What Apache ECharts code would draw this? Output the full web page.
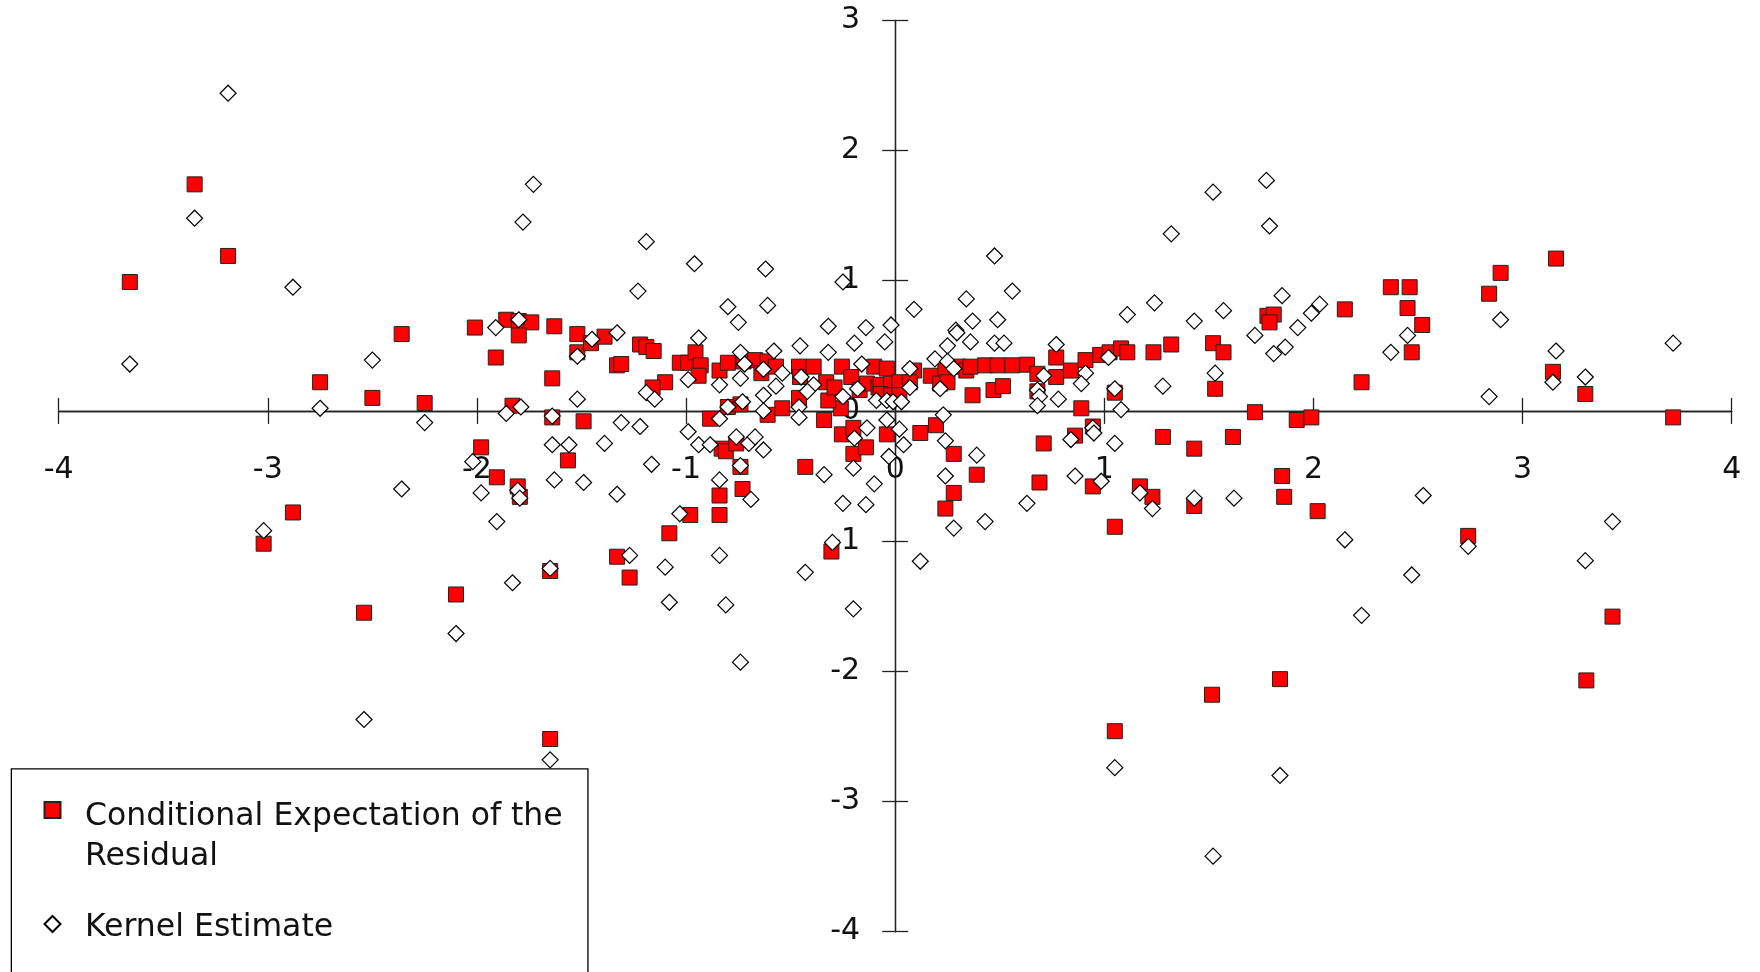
<!DOCTYPE html>
<html>
<head>
<meta charset="utf-8">
<script src="https://cdn.jsdelivr.net/npm/echarts@6/dist/echarts.min.js"></script>
<style>
  html, body { margin: 0; padding: 0; background: #fff; }
  #chart { width: 1760px; height: 972px; }
</style>
</head>
<body>
<div id="chart"></div>
<script>
// 两个系列的点 [x, y]
var condExpName = 'Conditional Expectation of the Residual';
var kernelName = 'Kernel Estimate';

var condExpPoints = [
  [-3.66,0.99],[-3.35,1.74],[-3.19,1.19],[-2.75,0.22],[-2.50,0.10],[-2.36,0.59],[-2.25,0.06],
  [-2.88,-0.78],[-3.02,-1.02],[-2.54,-1.55],[-2.10,-1.41],[-1.65,-2.52],
  [-2.01,0.64],[-1.86,0.70],[-1.80,0.69],[-1.74,0.68],[-1.80,0.58],[-1.63,0.65],[-1.91,0.41],
  [-1.52,0.59],[-1.52,0.45],[-1.455,0.52],[-1.39,0.57],[-1.22,0.51],[-1.19,0.49],[-1.155,0.46],
  [-1.33,0.35],[-1.31,0.36],[-1.64,0.25],[-1.10,0.22],[-1.16,0.18],[-1.83,0.04],[-1.64,-0.05],
  [-1.49,-0.08],[-1.98,-0.28],[-1.565,-0.38],[-1.905,-0.51],[-1.805,-0.58],[-1.795,-0.66],
  [-1.65,-1.23],[-1.33,-1.12],[-1.27,-1.28],[-1.08,-0.94],[-0.98,-0.80],[-0.84,-0.65],[-0.84,-0.80],
  [-0.73,-0.60],[-0.74,-0.43],[-0.83,-0.29],[-0.81,-0.31],[-0.76,-0.25],[-0.885,-0.06],[-0.80,0.03],
  [-0.74,0.05],[-0.61,-0.03],[-0.54,0.02],[-0.46,0.10],[-0.34,-0.07],[-0.43,-0.43],[-0.305,-1.08],
  [-0.255,-0.18],[-0.20,-0.33],[-0.14,-0.28],[-0.26,0.02],[-0.32,0.08],[-0.20,-0.13],
  [-1.03,0.37],[-0.99,0.37],[-0.955,0.45],[-0.93,0.35],[-0.94,0.27],[-0.84,0.31],[-0.80,0.37],
  [-0.725,0.38],[-0.67,0.39],[-0.64,0.29],[-0.61,0.38],[-0.57,0.34],[-0.46,0.34],[-0.455,0.26],
  [-0.39,0.34],[-0.33,0.22],[-0.29,0.18],[-0.255,0.34],[-0.21,0.26],[-0.17,0.16],[-0.135,0.21],
  [-0.10,0.34],[-0.08,0.18],
  [-0.04,0.325],[0.09,0.31],[0.17,0.27],[0.24,0.325],[0.30,0.34],[0.34,0.31],[0.36,0.34],[0.43,0.35],
  [0.49,0.35],[0.56,0.35],[0.63,0.355],[0.68,0.285],[0.77,0.41],[0.77,0.26],[0.84,0.31],[0.91,0.39],
  [0.98,0.43],[1.025,0.45],[1.08,0.48],[1.11,0.45],[1.235,0.45],[1.32,0.51],[1.52,0.52],[1.57,0.45],
  [1.78,0.73],[1.81,0.74],[1.79,0.68],
  [-0.07,0.20],[-0.02,0.21],[0.02,0.22],[0.07,0.22],[0.215,0.21],[0.25,0.22],[-0.07,0.13],[-0.02,0.12],
  [0.02,0.12],[0.37,0.12],[0.47,0.16],[0.515,0.19],[0.68,0.15],[1.05,0.14],[1.53,0.17],[0.89,0.02],
  [1.72,-0.01],[1.92,-0.07],[1.99,-0.05],
  [-0.04,-0.18],[0.12,-0.17],[0.195,-0.11],[0.28,-0.33],[0.39,-0.49],[0.28,-0.63],[0.24,-0.75],
  [0.71,-0.25],[0.86,-0.19],[0.945,-0.12],[0.69,-0.55],[0.945,-0.58],[1.05,-0.89],[1.17,-0.58],
  [1.23,-0.66],[1.28,-0.20],[1.43,-0.29],[1.43,-0.73],[1.615,-0.20],[1.85,-0.50],[1.86,-0.66],[2.02,-0.77],
  [1.05,-2.46],[1.515,-2.18],[1.84,-2.06],[3.305,-2.07],
  [3.16,1.17],[2.895,1.06],[2.84,0.90],[2.37,0.95],[2.46,0.95],[2.15,0.78],[2.45,0.79],[2.52,0.66],
  [2.47,0.45],[2.23,0.22],[3.145,0.30],[3.30,0.13],[3.72,-0.05],[2.74,-0.96],[3.43,-1.58]
];

var kernelPoints = [
  [-3.19,2.44],[-3.35,1.48],[-2.88,0.95],[-3.66,0.36],[-2.50,0.39],[-2.75,0.02],[-2.25,-0.09],
  [-2.36,-0.60],[-3.02,-0.92],[-2.54,-2.37],[-1.65,-2.68],[-0.74,-1.93],[1.05,-2.74],[1.52,-3.42],[1.84,-2.80],
  [3.72,0.52],[2.895,0.70],[2.45,0.58],[2.37,0.45],[3.16,0.46],[3.145,0.22],[3.30,0.26],[2.84,0.11],
  [2.525,-0.65],[2.15,-0.99],[2.74,-1.04],[3.43,-0.85],[3.30,-1.15],[2.47,-1.26],[2.23,-1.57],
  [0.475,1.19],[0.09,0.78],[0.34,0.86],[0.56,0.92],[0.37,0.69],[0.49,0.70],[-0.02,0.66],[0.29,0.62],
  [1.32,1.36],[1.52,1.68],[1.775,1.77],[1.79,1.42],[1.11,0.74],[1.24,0.83],[1.43,0.69],[1.57,0.77],
  [1.85,0.885],[1.925,0.64],[1.99,0.75],[2.03,0.82],
  [-1.73,1.74],[-1.78,1.45],[-1.19,1.30],[-0.96,1.13],[-0.62,1.09],[-0.25,0.99],[-1.23,0.92],
  [-0.80,0.80],[-0.61,0.81],[-0.75,0.68],[-0.32,0.65],[-0.14,0.64],
  [-1.91,0.64],[-1.80,0.70],[-1.45,0.55],[-1.52,0.42],[-1.33,0.60],[-0.94,0.56],[-0.195,0.52],
  [-0.32,0.45],[-0.455,0.50],[-0.58,0.46],[-0.74,0.45],[-0.72,0.36],[-0.63,0.32],[-0.54,0.29],
  [-0.74,0.25],[-0.84,0.20],[-0.99,0.24],[-0.57,0.19],[-0.45,0.26],[-0.39,0.20],[-0.42,0.15],
  [-0.16,0.36],[-0.18,0.17],[-0.25,0.11],[-0.09,0.08],[-0.63,0.12],[-0.63,0.00],[-0.73,0.07],
  [-0.80,0.03],[-0.84,-0.06],[-0.46,0.03],[-0.46,-0.05],[-1.19,0.14],[-1.15,0.09],[-1.52,0.09],
  [-1.79,0.03],[-1.86,-0.02],[-1.64,-0.04],[-1.31,-0.09],[-1.22,-0.12],[-0.99,-0.16],[-1.64,-0.26],
  [-1.56,-0.26],[-1.39,-0.25],[-0.94,-0.26],[-0.885,-0.26],[-0.76,-0.20],[-0.70,-0.25],[-0.67,-0.20],
  [-0.63,-0.30],[-0.135,-0.13],[-0.195,-0.21],[-0.20,-0.44],[-0.34,-0.49],[-0.10,-0.56],[-0.25,-0.71],
  [-0.14,-0.72],[-0.30,-1.01],[-0.43,-1.24],[-0.20,-1.52],[-2.02,-0.39],[-1.98,-0.63],[-1.63,-0.53],
  [-1.49,-0.55],[-1.805,-0.61],[-1.795,-0.67],[-1.905,-0.85],[-1.33,-0.64],[-1.165,-0.41],[-0.74,-0.42],
  [-0.84,-0.53],[-0.69,-0.68],[-1.03,-0.79],[-1.27,-1.11],[-1.10,-1.20],[-0.84,-1.11],[-1.65,-1.21],
  [-1.83,-1.32],[-1.08,-1.47],[-0.81,-1.49],[-2.10,-1.71],
  [-0.05,0.53],[0.295,0.60],[0.36,0.53],[0.25,0.50],[0.475,0.52],[0.52,0.52],[0.77,0.51],[0.19,0.40],
  [0.25,0.38],[0.28,0.325],[0.07,0.325],[0.07,0.18],[0.215,0.17],[0.71,0.27],[0.91,0.29],[0.89,0.21],
  [1.02,0.41],[0.68,0.16],[0.69,0.11],[0.68,0.04],[0.78,0.09],[1.05,0.17],[1.08,0.01],[1.28,0.19],
  [1.53,0.29],[1.72,0.58],[1.81,0.44],[1.865,0.49],[-0.04,0.08],[-0.01,0.07],[0.03,0.07],[-0.04,-0.07],
  [0.02,-0.14],[0.04,-0.26],[-0.03,-0.35],[0.23,-0.03],[0.24,-0.23],[0.39,-0.34],[0.24,-0.50],
  [0.28,-0.90],[0.43,-0.85],[0.12,-1.155],[0.63,-0.71],[0.84,-0.22],[0.945,-0.13],[0.95,-0.17],
  [1.05,-0.25],[0.86,-0.50],[0.985,-0.54],[1.17,-0.63],[1.23,-0.75],[1.43,-0.67],[1.62,-0.67]
];

var xMin = -4, xMax = 4;
var yMin = -4, yMax = 3;

var font = 'DejaVu Sans';
var axisColor = '#222';

// 画布与绘图区
var chartW = 1760, chartH = 972;
var gridLeft = 58.7, gridRight = 28.3, gridTop = 20.3, gridBottom = 40.3;
var plotW = chartW - gridLeft - gridRight;
var plotH = chartH - gridTop - gridBottom;
// 零点离绘图区边缘的距离, 用来把刻度文字挪到零轴旁边
var zeroFromLeft = plotW * (0 - xMin) / (xMax - xMin);
var zeroFromBottom = plotH * (0 - yMin) / (yMax - yMin);

// 轴线+刻度 (两根叠在零点上, 刻度一根朝外一根朝内, 形成十字刻度)
function lineAxis(min, max, position) {
    return {
        type: 'value',
        min: min,
        max: max,
        interval: 1,
        position: position,
        axisLine: { show: true, onZero: true, lineStyle: { color: axisColor, width: 1.3 } },
        axisTick: { show: true, inside: false, length: 13, lineStyle: { color: axisColor, width: 1.3 } },
        axisLabel: { show: false },
        splitLine: { show: false }
    };
}

// 只放刻度文字的轴
function labelAxis(min, max, position, offset, margin) {
    return {
        type: 'value',
        min: min,
        max: max,
        interval: 1,
        position: position,
        offset: offset,
        axisLine: { show: false, onZero: false },
        axisTick: { show: false },
        axisLabel: {
            show: true,
            margin: margin,
            color: '#111',
            fontFamily: font,
            fontSize: 30
        },
        splitLine: { show: false }
    };
}

var legendText = { fontFamily: font, fontSize: 31.5, lineHeight: 40, color: '#111' };

var chart = echarts.init(document.getElementById('chart'));

chart.setOption({
    animation: false,
    backgroundColor: '#fff',
    grid: {
        left: gridLeft,
        right: gridRight,
        top: gridTop,
        bottom: gridBottom,
        containLabel: false,
        outerBoundsMode: 'none'
    },
    xAxis: [
        lineAxis(xMin, xMax, 'bottom'),
        lineAxis(xMin, xMax, 'top'),
        labelAxis(xMin, xMax, 'bottom', -zeroFromBottom, 44)
    ],
    yAxis: [
        lineAxis(yMin, yMax, 'left'),
        lineAxis(yMin, yMax, 'right'),
        labelAxis(yMin, yMax, 'left', -zeroFromLeft, 35)
    ],
    graphic: [{
        type: 'rect',
        left: 10.7,
        top: 768.3,
        z: 3,
        shape: { width: 576.6, height: 260 },
        style: { fill: '#fff', stroke: '#000', lineWidth: 1.3 }
    }],
    legend: {
        orient: 'vertical',
        left: 43.5,
        top: 765,
        padding: 0,
        itemGap: 28.5,
        itemWidth: 16,
        itemHeight: 16,
        z: 4,
        data: [condExpName, kernelName],
        formatter: function (name) {
            // 前面放一行空白, 让图标对齐第一行文字
            if (name === condExpName) {
                return '{gap1| }\n{t|Conditional Expectation of the}\n{t|Residual}';
            }
            return '{gap2| }\n{t|' + name + '}';
        },
        textStyle: {
            fontFamily: font,
            fontSize: 31.5,
            color: '#111',
            padding: [0, 0, 0, 19.5],
            rich: {
                gap1: { fontSize: 10, lineHeight: 54 },
                gap2: { fontSize: 5, lineHeight: 7 },
                t: legendText
            }
        }
    },
    series: [
        {
            name: condExpName,
            type: 'scatter',
            xAxisIndex: 0,
            yAxisIndex: 0,
            symbol: 'rect',
            symbolSize: 15,
            itemStyle: { color: '#ff0000', borderColor: '#222', borderWidth: 1, opacity: 1 },
            data: condExpPoints
        },
        {
            name: kernelName,
            type: 'scatter',
            xAxisIndex: 0,
            yAxisIndex: 0,
            symbol: 'diamond',
            symbolSize: 16,
            itemStyle: { color: '#ffffff', borderColor: '#000', borderWidth: 1.2, opacity: 1 },
            data: kernelPoints
        }
    ]
});
</script>
</body>
</html>
